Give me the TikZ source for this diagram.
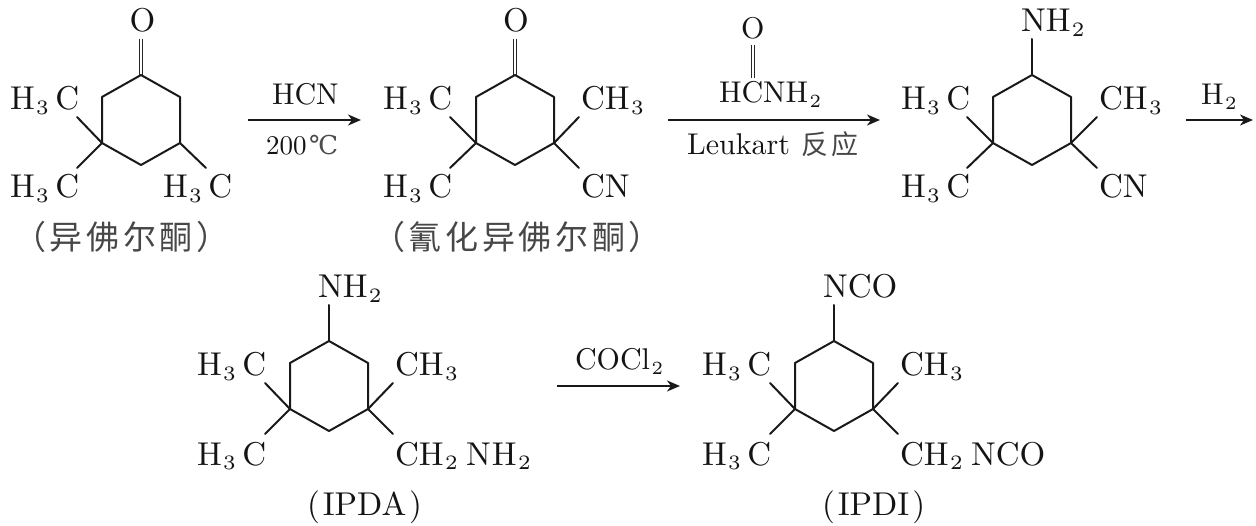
\documentclass[tikz,border=0pt]{standalone}
\usepackage{fontspec}
\usepackage{graphicx}
\usetikzlibrary{arrows.meta}
\newfontfamily\cjkf{Noto Sans CJK SC}
\newfontfamily\degf{DejaVu Serif}
\newcommand{\bg}[1]{\scalebox{3.3}{#1}}
\newcommand{\sm}[1]{\scalebox{3}{#1}}
\newcommand{\subn}[1]{\kern.45pt\raisebox{-1.35pt}{\fontsize{6.2}{6.5}\selectfont #1}\kern2pt}
\newcommand{\sube}[1]{\kern.45pt\raisebox{-1.35pt}{\fontsize{6.2}{6.5}\selectfont #1}}
\newcommand{\subs}[1]{\kern.5pt\raisebox{-1.35pt}{\fontsize{6.2}{6.5}\selectfont #1}}
\newcommand{\kk}{\kern3.7pt}
\newcommand{\lbl}[5][chem]{\node[#1] (#2) at (#3,#4) {#5};}
\newcommand{\ringat}[3]{%
  \coordinate (#1t) at (#2,#3);
  \coordinate (#1ul) at (#2-39,#3+22);
  \coordinate (#1ur) at (#2+39,#3+22);
  \coordinate (#1ll) at (#2-39,#3+68);
  \coordinate (#1lr) at (#2+39,#3+68);
  \coordinate (#1b) at (#2,#3+90);
  \draw[bond] (#1t) -- (#1ul) -- (#1ll) -- (#1b) -- (#1lr) -- (#1ur) -- cycle;
}
\tikzset{
  chem/.style={anchor=base west,inner sep=0pt,outer sep=0pt,font=\fontsize{10}{12}\selectfont,text=black!92},
  zh/.style={anchor=base west,inner sep=0pt,outer sep=0pt,font=\cjkf\fontsize{33}{36}\selectfont,text=black!72},
  bond/.style={line width=2pt,line join=round,line cap=round,draw=black!90},
  thinbond/.style={line width=1.3pt,draw=black!85},
  rxn/.style={line width=1.7pt,draw=black!90,-{Stealth[length=13pt,width=11pt,inset=4pt]}},
}
\begin{document}
\begin{tikzpicture}[x=1pt,y=-1pt]
\useasboundingbox (0,0) rectangle (1256,526);
% molecule 1
\ringat{a}{141}{75}
\coordinate (aO1) at (139.3,39); \coordinate (aO2) at (142.7,39);
\coordinate (aD1) at (139.3,75); \coordinate (aD2) at (142.7,75);
\draw[thinbond] (aO1) -- (aD1); \draw[thinbond] (aO2) -- (aD2);
\coordinate (aM1) at (77,117); \coordinate (aM2) at (77,168); \coordinate (aM3) at (206,168);
\draw[bond] (all) -- (aM1); \draw[bond] (all) -- (aM2); \draw[bond] (alr) -- (aM3);
\lbl{aO}{129.5}{32}{\bg{O}}
\lbl{aMe1}{10}{110}{\bg{H\subn{3}C}}
\lbl{aMe2}{10}{198}{\bg{H\subn{3}C}}
\lbl{aMe3}{163}{198}{\bg{H\subn{3}C}}
\lbl[zh]{aCap}{13}{250}{（\kk 异\kk 佛\kk 尔\kk 酮\kk ）}
% arrow 1
\coordinate (r1s) at (248,120); \coordinate (r1e) at (361,120);
\draw[rxn] (r1s) -- (r1e);
\lbl{r1t}{272}{105}{\sm{HCN}}
\lbl{r1b}{266}{155}{\scalebox{2.7}{200}\kern2.5pt{\degf\fontsize{26}{28}\selectfont\color{black!70}℃}}
% molecule 2
\ringat{b}{515}{75}
\coordinate (bO1) at (513.3,39); \coordinate (bO2) at (516.7,39);
\coordinate (bD1) at (513.3,75); \coordinate (bD2) at (516.7,75);
\draw[thinbond] (bO1) -- (bD1); \draw[thinbond] (bO2) -- (bD2);
\coordinate (bM1) at (450,117); \coordinate (bM2) at (450,168); \coordinate (bM3) at (579,117); \coordinate (bM4) at (579,168);
\draw[bond] (bll) -- (bM1); \draw[bond] (bll) -- (bM2); \draw[bond] (blr) -- (bM3); \draw[bond] (blr) -- (bM4);
\lbl{bO}{503}{32}{\bg{O}}
\lbl{bMe1}{383}{110}{\bg{H\subn{3}C}}
\lbl{bMe2}{383}{198}{\bg{H\subn{3}C}}
\lbl{bMe3}{581}{110}{\bg{CH\sube{3}}}
\lbl{bCN}{581}{198}{\bg{CN}}
\lbl[zh]{bCap}{372}{250}{（\kk 氰\kk 化\kk 异\kk 佛\kk 尔\kk 酮\kk ）}
% arrow 2
\coordinate (r2s) at (668,120); \coordinate (r2e) at (880,120);
\draw[rxn] (r2s) -- (r2e);
\lbl{r2O}{741}{39}{\sm{O}}
\coordinate (r2a) at (751.3,45); \coordinate (r2b) at (754.7,45);
\coordinate (r2c) at (751.3,78); \coordinate (r2d) at (754.7,78);
\draw[thinbond] (r2a) -- (r2c); \draw[thinbond] (r2b) -- (r2d);
\lbl{r2t}{719}{103}{\sm{HCNH\subs{2}}}
\lbl{r2l}{687}{155}{\sm{Leukart}\kern11pt{\cjkf\fontsize{27}{30}\selectfont\color{black!72}反\kern3.5pt 应}}
% molecule 3
\ringat{c}{1032}{75}
\coordinate (cN) at (1032,39);
\draw[bond] (ct) -- (cN);
\coordinate (cM1) at (967,117); \coordinate (cM2) at (967,168); \coordinate (cM3) at (1097,117); \coordinate (cM4) at (1097,168);
\draw[bond] (cll) -- (cM1); \draw[bond] (cll) -- (cM2); \draw[bond] (clr) -- (cM3); \draw[bond] (clr) -- (cM4);
\lbl{cNH}{1021}{32}{\bg{NH\sube{2}}}
\lbl{cMe1}{901}{110}{\bg{H\subn{3}C}}
\lbl{cMe2}{901}{198}{\bg{H\subn{3}C}}
\lbl{cMe3}{1099}{110}{\bg{CH\sube{3}}}
\lbl{cCN}{1099}{198}{\bg{CN}}
% arrow 3
\coordinate (r3s) at (1186,120); \coordinate (r3e) at (1253,120);
\draw[rxn] (r3s) -- (r3e);
\lbl{r3t}{1201}{105}{\sm{H\subs{2}}}
% molecule 4
\ringat{d}{329}{341}
\coordinate (dN) at (329,305);
\draw[bond] (dt) -- (dN);
\coordinate (dM1) at (265,383); \coordinate (dM2) at (265,434); \coordinate (dM3) at (393,383); \coordinate (dM4) at (393,434);
\draw[bond] (dll) -- (dM1); \draw[bond] (dll) -- (dM2); \draw[bond] (dlr) -- (dM3); \draw[bond] (dlr) -- (dM4);
\lbl{dNH}{318}{298}{\bg{NH\sube{2}}}
\lbl{dMe1}{197}{376}{\bg{H\subn{3}C}}
\lbl{dMe2}{197}{465}{\bg{H\subn{3}C}}
\lbl{dMe3}{395}{376}{\bg{CH\sube{3}}}
\lbl{dR}{395}{465}{\bg{CH\subn{2}\kern.6pt N\kern.3pt H\sube{2}}}
\lbl{dCap}{307}{515}{\bg{(\kern.9pt IPDA\kern.9pt)}}
% arrow 4
\coordinate (r4s) at (557,386); \coordinate (r4e) at (680,386);
\draw[rxn] (r4s) -- (r4e);
\lbl{r4t}{575}{370}{\sm{COCl\subs{2}}}
% molecule 5
\ringat{e}{834}{341}
\coordinate (eN) at (834,305);
\draw[bond] (et) -- (eN);
\coordinate (eM1) at (770,383); \coordinate (eM2) at (770,434); \coordinate (eM3) at (898,383); \coordinate (eM4) at (898,434);
\draw[bond] (ell) -- (eM1); \draw[bond] (ell) -- (eM2); \draw[bond] (elr) -- (eM3); \draw[bond] (elr) -- (eM4);
\lbl{eNCO}{823}{298}{\bg{NCO}}
\lbl{eMe1}{702}{376}{\bg{H\subn{3}C}}
\lbl{eMe2}{702}{465}{\bg{H\subn{3}C}}
\lbl{eMe3}{900}{376}{\bg{CH\sube{3}}}
\lbl{eR}{900}{465}{\bg{CH\subn{2}\kern.6pt NCO}}
\lbl{eCap}{822}{515}{\bg{(\kern.9pt IPDI\kern.9pt)}}
\end{tikzpicture}
\end{document}
